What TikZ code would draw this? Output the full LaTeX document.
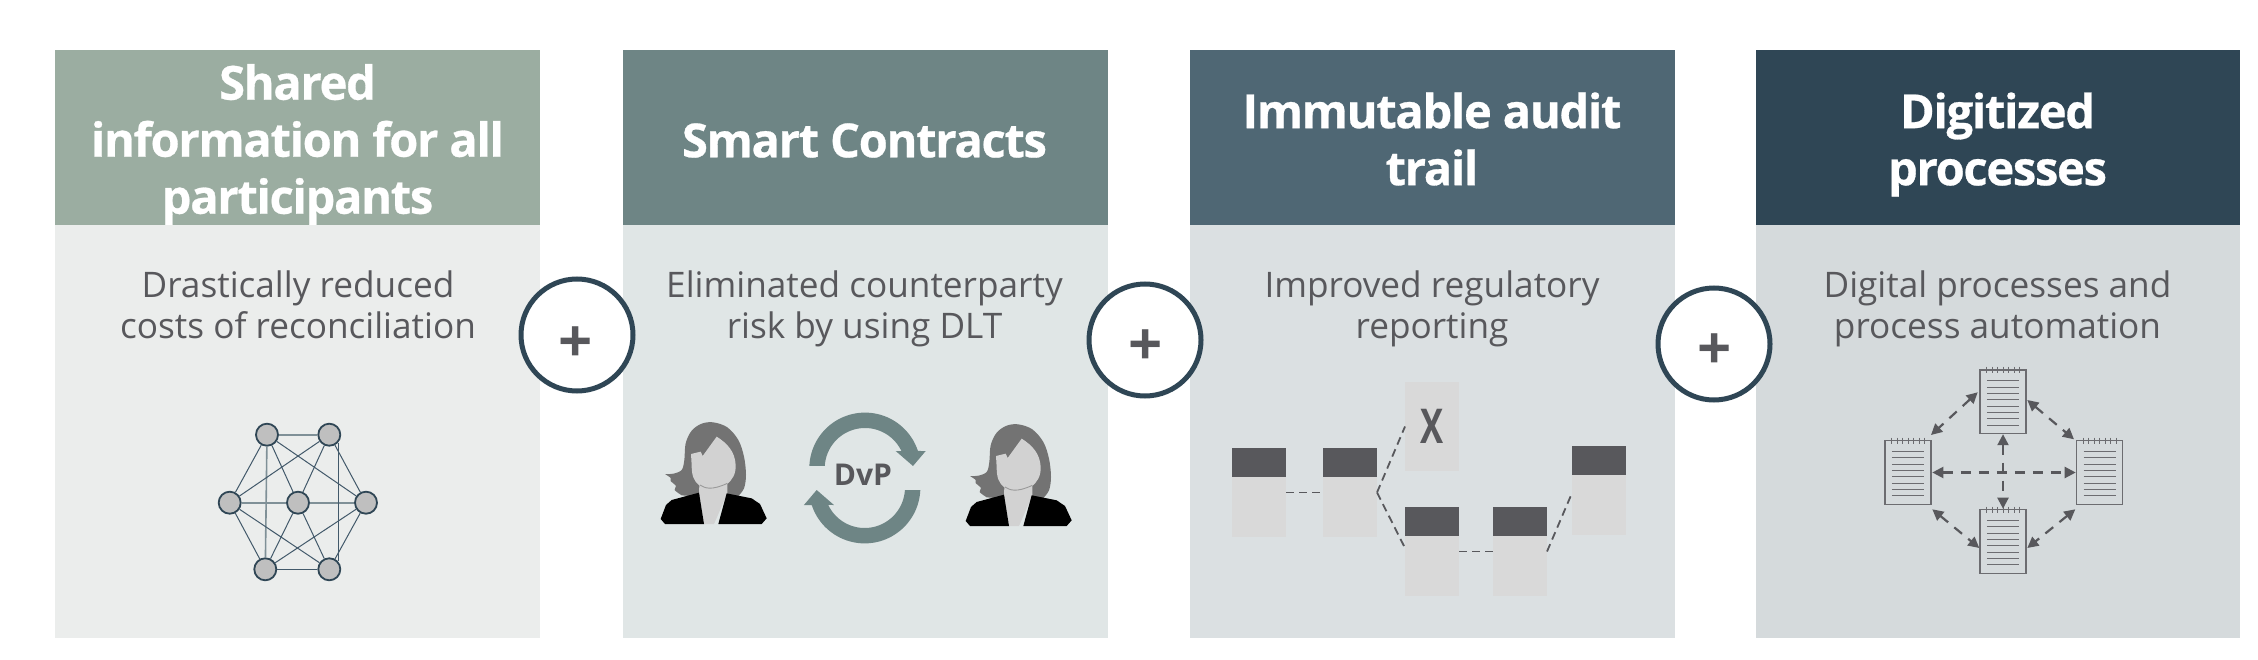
\documentclass[tikz,border=0pt]{standalone}
\usepackage{fontspec}
\usepackage{graphicx}
\setmainfont{Open Sans}
\newfontfamily\titlefont{Open Sans}[UprightFeatures={LetterSpace=-2.7},BoldFeatures={FakeBold=0.6,LetterSpace=-2.7}]
\usetikzlibrary{arrows.meta,calc}
\definecolor{hA}{HTML}{9BADA1}
\definecolor{hB}{HTML}{6E8585}
\definecolor{hC}{HTML}{4F6774}
\definecolor{hD}{HTML}{2F4655}
\definecolor{bA}{HTML}{EBEDEC}
\definecolor{bB}{HTML}{E0E6E6}
\definecolor{bC}{HTML}{DBE0E2}
\definecolor{bD}{HTML}{D5DADC}
\definecolor{ink}{HTML}{58585C}
\definecolor{blockc}{HTML}{D9D9D9}
\definecolor{netc}{HTML}{42596A}
\definecolor{netl}{HTML}{7F9097}
\definecolor{hairc}{HTML}{737373}
\definecolor{facec}{HTML}{D2D2D2}
\definecolor{docc}{HTML}{6C6C70}
\tikzset{
  head/.style={minimum width=484.5pt,minimum height=175pt,inner sep=0pt,outer sep=0pt,anchor=north west},
  bodybox/.style={minimum width=484.5pt,minimum height=413pt,inner sep=0pt,outer sep=0pt,anchor=north west},
  title/.style={font=\titlefont\fontsize{47}{57}\selectfont\bfseries,text=white,align=center,inner sep=0pt},
  subtitle/.style={font=\fontsize{35.2}{41.5}\selectfont,text=ink,align=center,inner sep=0pt},
  plusring/.style={circle,draw=hD,line width=5pt,fill=white,minimum size=112pt,inner sep=0pt},
  plussign/.style={font=\fontsize{60}{60}\selectfont\bfseries,text=ink,inner sep=0pt},
  netnode/.style={circle,draw=hD,line width=1.8pt,fill=black!25,minimum size=22pt,inner sep=0pt},
  netedge/.style={draw=netc,line width=1pt},
  netedgel/.style={draw=netl,line width=1.6pt},
  blockbody/.style={fill=blockc,minimum width=54pt,minimum height=89pt,inner sep=0pt,outer sep=0pt,anchor=north west},
  blocktop/.style={fill=ink,minimum width=54pt,minimum height=29pt,inner sep=0pt,outer sep=0pt,anchor=north west},
  chain/.style={draw=ink,line width=1.8pt,dash pattern=on 8pt off 5pt},
  docbox/.style={draw=docc,line width=1.2pt,minimum width=46pt,minimum height=63.6pt,inner sep=0pt,outer sep=0pt},
  docarrow/.style={draw=ink,line width=2.2pt,dash pattern=on 10pt off 8pt,{Triangle[length=11pt,width=11pt]}-{Triangle[length=11pt,width=11pt]}},
}
\newcommand{\docdetail}[1]{%
  \begin{scope}[shift={(#1.center)}]
    \foreach \i in {0,...,7}{\draw[docc,line width=1pt] (-16.2,-21+\i*6.33) -- (16.2,-21+\i*6.33);}
    \foreach \i in {0,...,6}{\draw[docc,line width=1pt] (-16.5+\i*5.5,-35) -- (-16.5+\i*5.5,-28.5);}
  \end{scope}}
\newcommand{\personfig}[2]{%
  \begin{scope}[shift={(#1,#2)},scale=1/3]
    \fill[hairc] plot[smooth,tension=.55] coordinates {(75,192)(100,191)(125,180)(133,150)(137,100)(155,62)(185,41)(220,37)(262,52)(295,90)(312,140)(318,195)(312,235)(295,258)}
      -- (150,258) -- plot[smooth,tension=.55] coordinates {(125,256)(104,240)(108,228)(92,213)(92,204)(75,192)} -- cycle;
    \fill[facec] (230,80) .. controls (262,100) and (285,125) .. (287,165) .. controls (288,195) and (275,210) .. (262,222)
      -- (262,250) -- (222,342) -- (192,342) -- (177,250) -- (178,226) .. controls (160,212) and (155,195) .. (155,165)
      -- (153,132) -- (182,125) -- (188,138) -- cycle;
    \draw[black!40,line width=.9pt] (180,225) .. controls (195,235) and (215,242) .. (262,220);
    \fill[black] (177,248) -- (192,342) -- (75,342) -- (62,327) -- (78,285) -- (95,270) -- cycle;
    \fill[black] (260,250) -- (235,342) -- (365,342) -- (380,325) -- (360,282) -- (335,265) -- cycle;
  \end{scope}}
\newcommand{\roundarrow}{%
  \fill[hB] plot[domain=-177.6:-18.1,samples=50] ({865+55.7*cos(\x)},{468.3+55.7*sin(\x)})
    -- (925.7,451) -- (913,466) -- (895.7,451)
    -- plot[domain=-25.4:-176.7,samples=50] ({865+40.3*cos(\x)},{468.3+40.3*sin(\x)}) -- cycle;}
\begin{document}
\begin{tikzpicture}[x=1pt,y=-1pt]
\useasboundingbox (0,0) rectangle (2258,660);
% headers
\node[head,fill=hA] (hOne) at (55,50) {};
\node[head,fill=hB] (hTwo) at (623,50) {};
\node[head,fill=hC] (hThree) at (1190,50) {};
\node[head,fill=hD] (hFour) at (1755.5,50) {};
% titles (drawn below the bodies, descenders are cut off)
\node[title] (tOne) at (297.5,144.5) {Shared\\information for all\\participants};
\node[title] (tTwo) at (864.5,140.5) {Smart Contracts};
\node[title] (tThree) at (1432,139) {Immutable audit\\trail};
\node[title] (tFour) at (1997.5,144.5) {Digitized\\processes};
% bodies
\node[bodybox,fill=bA] (bOne) at (55,225) {};
\node[bodybox,fill=bB] (bTwo) at (623,225) {};
\node[bodybox,fill=bC] (bThree) at (1190,225) {};
\node[bodybox,fill=bD] (bFour) at (1755.5,225) {};
\node[subtitle] (sOne) at (298,305) {Drastically reduced\\costs of reconciliation};
\node[subtitle] (sTwo) at (864.5,309) {Eliminated counterparty\\risk by using DLT};
\node[subtitle] (sThree) at (1432,309) {Improved regulatory\\reporting};
\node[subtitle] (sFour) at (1997.5,309) {Digital processes and\\process automation};
% plus rings
\node[plusring] (pOne) at (577,335) {};
\node[plusring] (pTwo) at (1145,340) {};
\node[plusring] (pThree) at (1714,344) {};
\node[plussign] (xOne) at (576,344.4) {+};
\node[plussign] (xTwo) at (1145.5,347.5) {+};
\node[plussign] (xThree) at (1715,351.5) {+};
% network
\node[netnode] (nTL) at (267,434.7) {};
\node[netnode] (nTR) at (329.3,434.7) {};
\node[netnode] (nL) at (229.7,502.7) {};
\node[netnode] (nC) at (298,502.7) {};
\node[netnode] (nR) at (366,502.7) {};
\node[netnode] (nBL) at (265.3,569.3) {};
\node[netnode] (nBR) at (329.3,569.3) {};
\path[netedgel] (nTL) -- (nTR);
\path[netedgel] (nTL) -- (nBL);
\path[netedgel] (nL) -- (nC);
\path[netedgel] (nC) -- (nR);
\path[netedge] (nTL) -- (nL);
\path[netedge] (nTL) -- (nC);
\path[netedge] (nTL) -- (nR);
\path[netedge] (nTR) -- (nL);
\path[netedge] (nTR) -- (nC);
\path[netedge] (nTR) -- (nR);
\path[netedge] (nTR.-43) -- (nBR.43);
\path[netedge] (nC) -- (nBL);
\path[netedge] (nC) -- (nBR);
\path[netedge] (nL) -- (nBL);
\path[netedge] (nL) -- (nBR);
\path[netedge] (nR) -- (nBL);
\path[netedge] (nR) -- (nBR);
\path[netedge] (nBL) -- (nBR);
% people and DvP
\personfig{640}{410}
\personfig{945}{412}
\roundarrow
\begin{scope}[rotate around={180:(864.83,478)}]
\roundarrow
\end{scope}
\node[font=\fontsize{30}{30}\selectfont\bfseries,text=ink,inner sep=0pt] (dvp) at (863,474.5) {DvP};
% blockchain
\node[blockbody] (kA) at (1232,448) {};
\node[blocktop] at (1232,448) {};
\node[blockbody] (kB) at (1323,448) {};
\node[blocktop] at (1323,448) {};
\node[blockbody,font=\fontsize{48}{48}\selectfont\bfseries,text=ink] (kX) at (1405,382) {\scalebox{.72}[1]{X}};
\node[blockbody] (kC) at (1405,507) {};
\node[blocktop] at (1405,507) {};
\node[blockbody] (kD) at (1493,507) {};
\node[blocktop] at (1493,507) {};
\node[blockbody] (kE) at (1572,446) {};
\node[blocktop] at (1572,446) {};
\draw[chain] (kA.east) -- (kB.west);
\draw[chain] (kB.east) -- (kX.west);
\draw[chain] (kB.east) -- ([yshift=3.5pt]kC.west);
\draw[chain] (kC.east) -- (kD.west);
\draw[chain] (kD.east) -- ([yshift=-2.5pt]kE.west);
% documents
\node[docbox] (dT) at (2003,401.7) {};
\node[docbox] (dL) at (1908,472.5) {};
\node[docbox] (dR) at (2099.7,472.5) {};
\node[docbox] (dB) at (2003,541.5) {};
\docdetail{dT}\docdetail{dL}\docdetail{dR}\docdetail{dB}
\path[docarrow] ([xshift=-2.3pt,yshift=9.4pt]dT.west) -- ([yshift=5.7pt]dL.north east);
\path[docarrow] ([xshift=1.3pt,yshift=1.7pt]dT.east) -- ([xshift=-2.7pt,yshift=1.4pt]dR.north west);
\path[docarrow] ([xshift=1.3pt,yshift=-5pt]dL.south east) -- ([xshift=-0.7pt,yshift=-6.5pt]dB.west);
\path[docarrow] ([xshift=-1.4pt,yshift=-5pt]dR.south west) -- ([xshift=1.3pt,yshift=-6.5pt]dB.east);
\path[docarrow] ([xshift=1.3pt]dL.east) -- ([xshift=-1pt]dR.west);
\path[docarrow] ([yshift=-0.7pt]dT.south) -- ([yshift=1pt]dB.north);
\end{tikzpicture}
\end{document}
